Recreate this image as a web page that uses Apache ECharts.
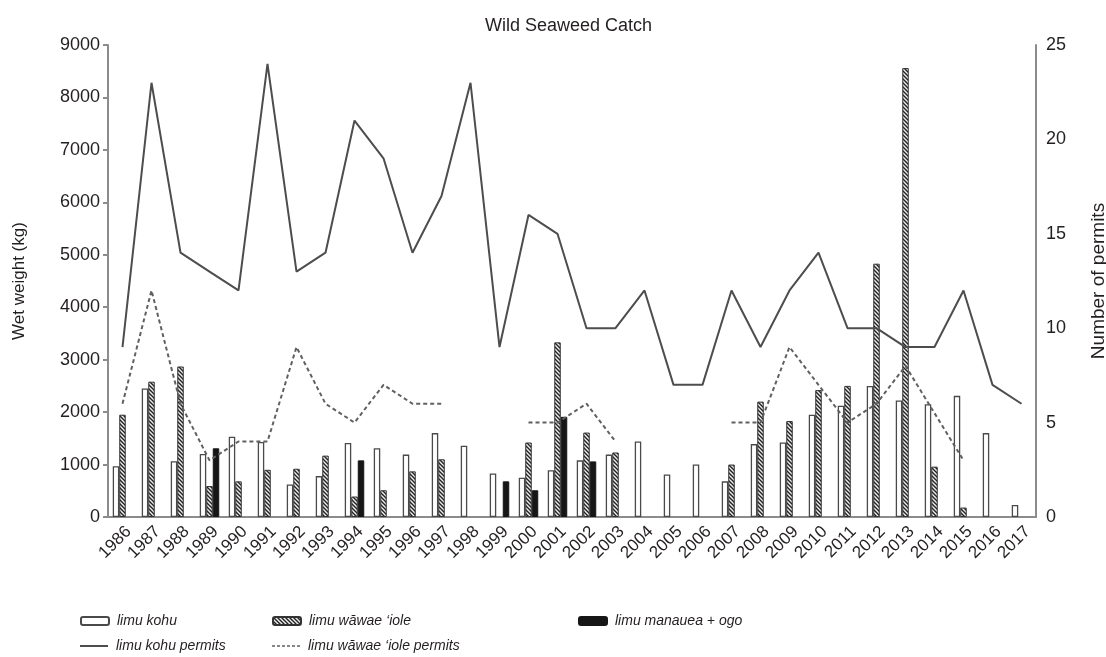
<!DOCTYPE html>
<html>
<head>
<meta charset="utf-8">
<script src="https://cdn.jsdelivr.net/npm/echarts@6/dist/echarts.min.js"></script>
<style>
  html, body { margin: 0; padding: 0; background: #fff; }
  #chart { width: 1106px; height: 657px; }
</style>
</head>
<body>
<div id="chart"></div>
<script>
// Years on the category axis
const years = ['1986','1987','1988','1989','1990','1991','1992','1993','1994','1995','1996',
  '1997','1998','1999','2000','2001','2002','2003','2004','2005','2006','2007','2008','2009',
  '2010','2011','2012','2013','2014','2015','2016','2017'];

// Catch, wet weight in kg
const kohuCatch = [970, 2450, 1065, 1200, 1530, 1430, 620, 780, 1410, 1310, 1190, 1600, 1360,
  830, 750, 890, 1080, 1190, 1440, 810, 1000, 680, 1390, 1420, 1950, 2120, 2500, 2220, 2150,
  2310, 1600, 230];
const wawaeCatch = [1950, 2580, 2870, 590, 680, 900, 920, 1170, 390, 510, 870, 1100, null,
  null, 1420, 3330, 1610, 1230, null, null, null, 1000, 2200, 1830, 2420, 2500, 4830, 8560,
  960, 180, null, null];
const manaueaCatch = [null, null, null, 1310, null, null, null, null, 1080, null, null, null,
  null, 680, 510, 1910, 1060, null, null, null, null, null, null, null, null, null, null, null,
  null, null, null, null];

// Number of permits issued
const kohuPermits = [9, 23, 14, 13, 12, 24, 13, 14, 21, 19, 14, 17, 23, 9, 16, 15, 10, 10, 12,
  7, 7, 12, 9, 12, 14, 10, 10, 9, 9, 12, 7, 6];
const wawaePermits = [6, 12, 6, 3, 4, 4, 9, 6, 5, 7, 6, 6, null, null, 5, 5, 6, 4, null, null,
  null, 5, 5, 9, 7, 5, 6, 8, 5.5, 3, null, null];

// Axis tick settings
const catchMax = 9000, catchStep = 1000;
const permitMax = 25, permitStep = 5;

const FONT = "'Liberation Sans', Arial, Helvetica, sans-serif";
const TEXT = '#231f20';
const AXIS = '#8c8c8c';

// Diagonal hatch fill for the wawae bars
function hatch() {
  const c = document.createElement('canvas');
  c.width = 4; c.height = 4;
  const g = c.getContext('2d');
  g.fillStyle = '#efefef';
  g.fillRect(0, 0, 4, 4);
  g.strokeStyle = '#222';
  g.lineWidth = 1.4;
  g.beginPath();
  g.moveTo(-1, -1); g.lineTo(5, 5);
  g.moveTo(-1, 3); g.lineTo(1, 5);
  g.moveTo(3, -1); g.lineTo(5, 1);
  g.stroke();
  return c;
}
const hatchFill = { image: hatch(), repeat: 'repeat' };

const names = {
  kohu: 'limu kohu',
  wawae: 'limu wāwae ‘iole',
  manauea: 'limu manauea + ogo',
  kohuP: 'limu kohu permits',
  wawaeP: 'limu wāwae ‘iole permits'
};

// Legend keys for the two permit lines
const solidKey = 'path://M0,0H28V2H0Z';
const dashedKey = 'path://M0,0H3V1.6H0Z M5,0H8V1.6H5Z M10,0H13V1.6H10Z M15,0H18V1.6H15Z M20,0H23V1.6H20Z M25,0H28V1.6H25Z';

function legendAt(name, left, top, icon) {
  const item = icon ? { name: name, icon: icon } : { name: name };
  return {
    data: [item], left: left, top: top,
    itemWidth: 28, itemHeight: 8, itemGap: 0,
    selectedMode: false,
    textStyle: { fontFamily: FONT, fontStyle: 'italic', fontSize: 14, color: TEXT, padding: [0, 0, 0, 3] }
  };
}

const chart = echarts.init(document.getElementById('chart'), null, { renderer: 'canvas' });

chart.setOption({
  animation: false,
  backgroundColor: '#fff',
  title: {
    text: 'Wild Seaweed Catch',
    left: 480, top: 12,
    textStyle: { fontFamily: FONT, fontWeight: 'normal', fontSize: 18, color: TEXT }
  },
  legend: [
    legendAt(names.kohu, 75, 609),
    legendAt(names.wawae, 267, 609),
    legendAt(names.manauea, 573, 609),
    legendAt(names.kohuP, 75, 634, solidKey),
    legendAt(names.wawaeP, 267, 634, dashedKey)
  ],
  grid: { left: 108, right: 70, top: 45, bottom: 140, containLabel: false, outerBoundsMode: 'none' },
  xAxis: {
    type: 'category',
    data: years,
    boundaryGap: true,
    axisLine: { lineStyle: { color: AXIS, width: 2 } },
    axisTick: { show: false },
    axisLabel: {
      interval: 0, rotate: 45, margin: 6, verticalAlign: 'top',
      fontFamily: FONT, fontSize: 17, color: TEXT
    }
  },
  yAxis: [
    {
      type: 'value',
      min: 0, max: catchMax, interval: catchStep,
      name: 'Wet weight (kg)',
      nameLocation: 'middle', nameRotate: 90, nameGap: 80,
      nameTextStyle: { fontFamily: FONT, fontSize: 17, color: TEXT },
      axisLine: { show: true, lineStyle: { color: AXIS, width: 2 } },
      axisTick: { show: true, length: 5, lineStyle: { color: AXIS, width: 2 } },
      axisLabel: { fontFamily: FONT, fontSize: 18, color: TEXT, margin: 8, formatter: v => String(v) },
      splitLine: { show: false }
    },
    {
      type: 'value',
      min: 0, max: permitMax, interval: permitStep,
      name: 'Number of permits',
      nameLocation: 'middle', nameRotate: 90, nameGap: 53,
      nameTextStyle: { fontFamily: FONT, fontSize: 19, color: TEXT },
      position: 'right',
      axisLine: { show: true, lineStyle: { color: AXIS, width: 2 } },
      axisTick: { show: false },
      axisLabel: { fontFamily: FONT, fontSize: 18, color: TEXT, margin: 10, formatter: v => String(v) },
      splitLine: { show: false }
    }
  ],
  series: [
    {
      name: names.kohu, type: 'bar', yAxisIndex: 0,
      data: kohuCatch, barWidth: 6.5, barGap: '0%',
      itemStyle: { color: '#ffffff', borderColor: '#4a4a4a', borderWidth: 1.3 }
    },
    {
      name: names.wawae, type: 'bar', yAxisIndex: 0,
      data: wawaeCatch, barWidth: 6.5, barGap: '0%',
      itemStyle: { color: hatchFill, borderColor: '#333', borderWidth: 1 }
    },
    {
      name: names.manauea, type: 'bar', yAxisIndex: 0,
      data: manaueaCatch, barWidth: 6.5, barGap: '0%',
      itemStyle: { color: '#161616', borderColor: '#161616', borderWidth: 1 }
    },
    {
      name: names.kohuP, type: 'line', yAxisIndex: 1,
      data: kohuPermits, symbol: 'none', z: 5,
      lineStyle: { color: '#4d4d4d', width: 2 },
      itemStyle: { color: '#4d4d4d' }
    },
    {
      name: names.wawaeP, type: 'line', yAxisIndex: 1,
      data: wawaePermits, symbol: 'none', z: 5, connectNulls: false,
      lineStyle: { color: '#606060', width: 2, type: [4, 3] },
      itemStyle: { color: '#606060' }
    }
  ]
});
</script>
</body>
</html>
